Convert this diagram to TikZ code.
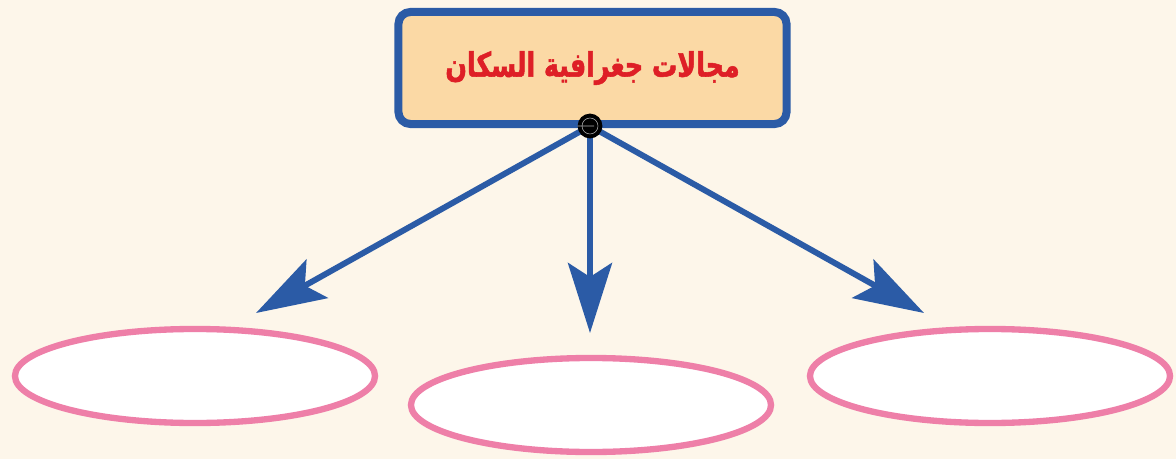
\documentclass[tikz,border=0pt]{standalone}
\usepackage{fontspec}
\newfontfamily\arabicfont[Script=Arabic, FakeStretch=0.75, FakeBold=1.5]{DejaVu Sans}
\TeXXeTstate=1
\usetikzlibrary{arrows.meta,shapes.geometric}
\definecolor{bgcream}{HTML}{FDF6EA}
\definecolor{boxfill}{HTML}{FBD9A5}
\definecolor{boxblue}{HTML}{2B5BA6}
\definecolor{titlered}{HTML}{DE1F26}
\definecolor{ovalpink}{HTML}{EE7FA8}
\tikzset{
  titlebox/.style={draw=boxblue, line width=5.7pt, fill=boxfill, rounded corners=0.3cm,
    minimum width=9.7cm, minimum height=2.8cm, inner sep=0pt,
    text=titlered, font=\arabicfont\bfseries\fontsize{24}{28}\selectfont},
  answeroval/.style={ellipse, draw=ovalpink, line width=4.5pt, fill=white,
    minimum width=9.0cm, minimum height=2.35cm, inner sep=0pt},
  branch/.style={draw=boxblue, line width=4.2pt,
    -{Stealth[length=1.75cm, width=1.1cm, inset=0.35cm]}}
}
\begin{document}
\begin{tikzpicture}[x=0.025cm, y=-0.025cm]

    % Background of the page
    \fill[bgcream] (0,0) rectangle (1176,459);
    \useasboundingbox (0,0) rectangle (1176,459);

    % Title box at the top
    \node[titlebox] (title) at (592.5,68) {\raisebox{4pt}{\beginR مجالات جغرافية السكان\endR}};

    % Empty ovals to fill in
    \node[answeroval] (left)   at (195,376) {};
    \node[answeroval] (middle) at (591,405) {};
    \node[answeroval] (right)  at (990,376) {};

    % Arrow tips stop short of the ovals
    \coordinate (lefttip)   at (256,313);
    \coordinate (middletip) at (590,333);
    \coordinate (righttip)  at (924,313);

    % Black dot where the arrows start
    \coordinate (hub) at (590,126);

    % The three arrows
    \draw[branch] (hub) -- (lefttip);
    \draw[branch] (hub) -- (middletip);
    \draw[branch] (hub) -- (righttip);

    % Draw the dot over the arrow ends
    \node[circle, fill=black, minimum size=0.62cm, inner sep=0pt] (dot) at (hub) {};
    \draw[gray!60, line width=0.4pt] (dot.center) circle (0.2cm)
        (dot.west) ++(0.1,0) -- ++(0.42cm,0);

\end{tikzpicture}
\end{document}
